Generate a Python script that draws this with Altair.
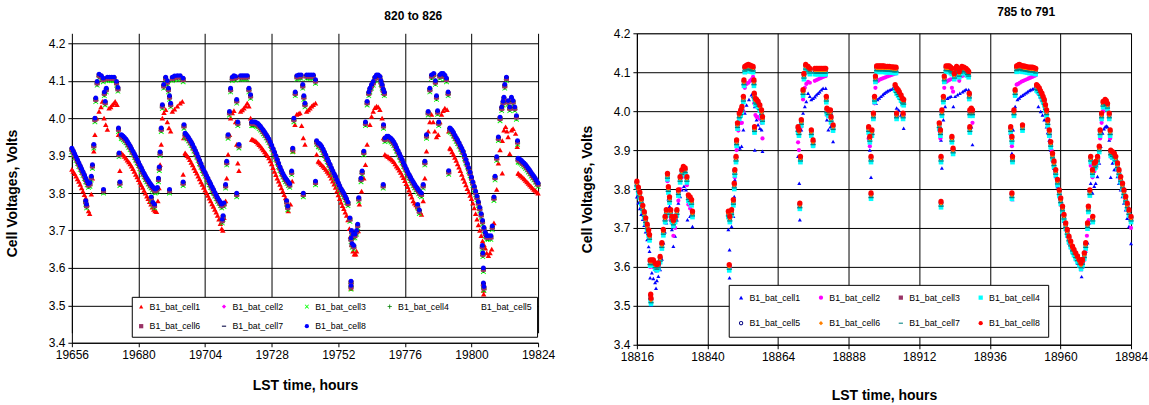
import altair as alt
import pandas as pd

CELLS = ["B1_bat_cell%d" % i for i in range(1, 9)]

# ---------------- LEFT PANEL (820 to 826) ----------------
LEFT_TITLE = "820 to 826"
LEFT_XTICKS = [19656, 19680, 19704, 19728, 19752, 19776, 19800, 19824]
Y_TICKS = [3.4, 3.5, 3.6, 3.7, 3.8, 3.9, 4.0, 4.1, 4.2]

# cell8 (blue, top trace): (hour, volts)
L_CELL8 = [
    (19656, 3.920), (19656.5, 3.913), (19657, 3.905), (19657.5, 3.897), (19658, 3.889), (19658.5, 3.881),
    (19659, 3.873), (19659.5, 3.865), (19660, 3.857), (19660.5, 3.849), (19661, 3.840), (19661.5, 3.832),
    (19662, 3.825), (19661.0, 3.780), (19661.3, 3.770), (19662.5, 3.828), (19663, 3.845), (19663.4, 3.876),
    (19663.9, 3.930), (19664.3, 4.000), (19664.6, 4.054), (19665.1, 4.098), (19665.8, 4.118), (19666.6, 4.114),
    (19667.3, 4.107), (19667.4, 3.810), (19667.7, 4.070), (19668, 4.045), (19668.4, 4.080), (19668.8, 4.110),
    (19669.6, 4.110), (19670.4, 4.110), (19671.2, 4.110), (19672.1, 4.098), (19672.6, 4.082), (19672.8, 3.974),
    (19673, 3.907), (19673.3, 3.830), (19673.8, 3.956),
    (19674, 3.955), (19674.5, 3.952), (19675, 3.948), (19675.5, 3.944), (19676, 3.938), (19676.5, 3.932),
    (19677, 3.926), (19677.5, 3.919), (19678, 3.912), (19678.5, 3.905), (19679, 3.898), (19679.5, 3.890),
    (19680, 3.883), (19680.5, 3.875), (19681, 3.868), (19681.5, 3.860), (19682, 3.853), (19682.5, 3.846),
    (19683, 3.840), (19683.5, 3.834), (19684, 3.828), (19684.5, 3.823), (19685, 3.818), (19685.5, 3.814),
    (19686, 3.810), (19686.4, 3.812), (19684.6, 3.790), (19685.2, 3.775), (19685.8, 3.770),
    (19686.8, 3.815), (19687.2, 3.840), (19687.5, 3.870), (19687.8, 3.910), (19688.2, 3.974), (19688.6, 4.036),
    (19689.1, 4.090), (19689.8, 4.110), (19690.4, 4.100), (19690.8, 4.080), (19691.2, 4.060), (19691.2, 3.810),
    (19691.6, 4.040), (19692.2, 4.110), (19693, 4.113), (19694, 4.114), (19695, 4.114), (19696.1, 4.107),
    (19696.1, 3.830), (19696.4, 3.983), (19696.8, 3.960),
    (19697, 3.958), (19697.5, 3.954), (19698, 3.949), (19698.5, 3.943), (19699, 3.937), (19699.5, 3.930),
    (19700, 3.922), (19700.5, 3.914), (19701, 3.906), (19701.5, 3.897), (19702, 3.888), (19702.5, 3.879),
    (19703, 3.870), (19703.5, 3.862), (19704, 3.855), (19704.5, 3.847), (19705, 3.840), (19705.5, 3.832),
    (19706, 3.825), (19706.5, 3.817), (19707, 3.810), (19707.5, 3.802), (19708, 3.795), (19708.5, 3.788),
    (19709, 3.782), (19709.5, 3.776), (19710, 3.770), (19710.2, 3.730), (19710.5, 3.740),
    (19710.8, 3.774), (19711.4, 3.823), (19711.8, 3.885), (19712.3, 3.956), (19712.8, 4.018), (19713.2, 4.080),
    (19713.8, 4.110), (19714.4, 4.114), (19715, 4.112), (19715.4, 4.050), (19715.4, 3.800), (19715.8, 3.990),
    (19716.2, 3.930), (19716.8, 4.114), (19717.6, 4.114), (19718.4, 4.114), (19719.2, 4.114), (19719.8, 4.080),
    (19720.4, 4.063), (19720.8, 3.990),
    (19721, 3.990), (19721.5, 3.990), (19722, 3.990), (19722.5, 3.988), (19723, 3.986), (19723.5, 3.982),
    (19724, 3.978), (19724.5, 3.973), (19725, 3.968), (19725.5, 3.963), (19726, 3.957), (19726.5, 3.951),
    (19727, 3.945), (19727.5, 3.937), (19728, 3.928), (19728.5, 3.919), (19729, 3.910), (19729.5, 3.900),
    (19730, 3.890), (19730.5, 3.880), (19731, 3.870), (19731.5, 3.861), (19732, 3.853), (19732.5, 3.846),
    (19733, 3.840), (19733.5, 3.835), (19734, 3.830), (19734.5, 3.825), (19733.4, 3.780), (19733.8, 3.765),
    (19735.2, 3.859), (19735.6, 3.920), (19736, 4.000), (19736.5, 4.070), (19737.1, 4.114), (19737.8, 4.116),
    (19738.6, 4.116), (19739.2, 4.090), (19739.4, 3.800), (19739.6, 4.060), (19740, 4.040), (19740.6, 4.116),
    (19741.4, 4.116), (19742.2, 4.116), (19743, 4.116), (19743.8, 4.103), (19743.8, 3.832), (19744.2, 3.940),
    (19744.8, 3.934),
    (19745, 3.933), (19745.5, 3.930), (19746, 3.925), (19746.5, 3.918), (19747, 3.910), (19747.5, 3.902),
    (19748, 3.893), (19748.5, 3.885), (19749, 3.877), (19749.5, 3.868), (19750, 3.860), (19750.5, 3.852),
    (19751, 3.845), (19751.5, 3.836), (19752, 3.828), (19752.5, 3.820), (19753, 3.812), (19753.5, 3.806),
    (19754, 3.800), (19754.5, 3.792), (19755, 3.785), (19755.5, 3.776), (19756.2, 3.734), (19756.8, 3.700),
    (19757.4, 3.690), (19758, 3.690), (19756.6, 3.680), (19757, 3.665), (19757.6, 3.660), (19756.6, 3.565),
    (19756.6, 3.553), (19758.6, 3.700), (19759, 3.717), (19759.4, 3.788), (19760.2, 3.840), (19760.6, 3.859),
    (19761.2, 3.912), (19761.8, 3.990), (19762.4, 4.045), (19763, 4.070), (19763.4, 4.080), (19764, 4.090),
    (19764.6, 4.098), (19765.2, 4.110), (19765.8, 4.116), (19766.4, 4.116), (19767, 4.112), (19767.4, 4.100),
    (19767.8, 4.090), (19768.2, 4.078), (19768.6, 4.070), (19768.3, 3.983), (19768.2, 3.823), (19768.8, 3.947),
    (19769.5, 3.952), (19770, 3.952), (19770.5, 3.949), (19771, 3.946), (19771.5, 3.942), (19772, 3.937),
    (19772.5, 3.930), (19773, 3.922), (19773.5, 3.914), (19774, 3.906), (19774.5, 3.898), (19775, 3.890),
    (19775.5, 3.881), (19776, 3.873), (19776.5, 3.865), (19777, 3.857), (19777.5, 3.850), (19778, 3.843),
    (19778.5, 3.836), (19779, 3.830), (19779.5, 3.824), (19780, 3.818), (19780.5, 3.813), (19781, 3.808),
    (19781.5, 3.803), (19782, 3.800), (19780.6, 3.770), (19781.2, 3.755),
    (19782.6, 3.823), (19783.2, 3.885), (19783.8, 3.956), (19784.4, 4.018), (19785, 4.080), (19785.6, 4.116),
    (19786.4, 4.120), (19787, 4.100), (19787.4, 4.060), (19787.8, 4.020), (19788.2, 3.990), (19788.6, 4.116),
    (19789.2, 4.120), (19789.8, 4.120), (19790.4, 4.115), (19791, 4.107), (19791.6, 4.070), (19791.8, 3.860),
    (19792.2, 3.974),
    (19792.5, 3.972), (19793, 3.968), (19793.5, 3.962), (19794, 3.955), (19794.5, 3.948), (19795, 3.942),
    (19795.5, 3.935), (19796, 3.927), (19796.5, 3.920), (19797, 3.912), (19797.5, 3.901), (19798, 3.890),
    (19798.5, 3.879), (19799, 3.868), (19799.5, 3.856), (19800, 3.843), (19800.5, 3.830), (19801, 3.818),
    (19801.5, 3.805), (19802, 3.792), (19802.5, 3.777), (19803, 3.762), (19803.5, 3.745), (19804, 3.727),
    (19804.5, 3.708), (19805, 3.695), (19805.5, 3.686), (19806.1, 3.686), (19807, 3.686), (19807.5, 3.712),
    (19803.9, 3.660), (19804.1, 3.640), (19804.3, 3.600), (19804.3, 3.560), (19804.5, 3.550),
    (19808.1, 3.790), (19808.5, 3.845), (19809.1, 3.897), (19809.7, 3.950), (19810.3, 4.003), (19810.9, 4.030),
    (19811.4, 4.045), (19811.7, 4.056), (19812, 4.090), (19812.6, 4.110), (19813.2, 4.047), (19813.8, 4.030),
    (19814.4, 4.056), (19815, 4.047), (19815.6, 4.030), (19816.2, 4.007), (19816.6, 3.940), (19816.8, 3.893),
    (19817, 3.892), (19817.5, 3.890), (19818, 3.887), (19818.5, 3.883), (19819, 3.880), (19819.5, 3.876),
    (19820, 3.871), (19820.5, 3.866), (19821, 3.861), (19821.5, 3.855), (19822, 3.850), (19822.5, 3.845),
    (19823, 3.839), (19823.5, 3.833), (19824, 3.827),
]

# cell1 (red triangles, lower trace)
L_CELL1 = [
    (19656, 3.863), (19656.5, 3.858), (19657, 3.852), (19657.5, 3.845), (19658, 3.838), (19658.5, 3.831),
    (19659, 3.823), (19659.5, 3.814), (19660, 3.805), (19660.5, 3.796), (19661, 3.787), (19661.5, 3.770),
    (19662, 3.752), (19662.4, 3.745), (19663, 3.797), (19663.4, 3.840), (19663.9, 3.912), (19664.3, 3.956),
    (19664.9, 4.000), (19665.8, 4.018), (19666.5, 4.030), (19667, 4.045), (19667.6, 4.000), (19668.2, 3.983),
    (19668.8, 3.970), (19669.4, 4.027), (19670, 4.030), (19670.6, 4.036), (19671.2, 4.040), (19671.6, 4.045),
    (19672.3, 4.036), (19672.8, 3.956), (19673.3, 3.860), (19673.8, 3.907),
    (19674, 3.905), (19674.5, 3.902), (19675, 3.898), (19675.5, 3.893), (19676, 3.888), (19676.5, 3.883),
    (19677, 3.878), (19677.5, 3.872), (19678, 3.865), (19678.5, 3.858), (19679, 3.850), (19679.5, 3.843),
    (19680, 3.836), (19680.5, 3.829), (19681, 3.822), (19681.5, 3.815), (19682, 3.807), (19682.5, 3.800),
    (19683, 3.792), (19683.5, 3.785), (19684, 3.777), (19684.5, 3.770), (19685, 3.762), (19685.5, 3.756),
    (19686, 3.752), (19686.5, 3.750), (19687, 3.779), (19687.4, 3.814), (19687.8, 3.876), (19688.2, 3.930),
    (19688.6, 4.000), (19689.2, 4.015), (19689.8, 4.023), (19690.4, 3.990), (19691, 3.974), (19691.6, 3.965),
    (19692.2, 4.018), (19693, 4.024), (19694, 4.032), (19695, 4.040), (19695.8, 4.045), (19696.3, 3.947),
    (19696.1, 3.850), (19696.8, 3.907),
    (19697, 3.905), (19697.5, 3.900), (19698, 3.896), (19698.5, 3.889), (19699, 3.882), (19699.5, 3.875),
    (19700, 3.867), (19700.5, 3.860), (19701, 3.853), (19701.5, 3.845), (19702, 3.838), (19702.5, 3.830),
    (19703, 3.823), (19703.5, 3.815), (19704, 3.808), (19704.5, 3.801), (19705, 3.794), (19705.5, 3.786),
    (19706, 3.779), (19706.5, 3.771), (19707, 3.764), (19707.5, 3.756), (19708, 3.749), (19708.5, 3.740),
    (19709, 3.730), (19709.5, 3.718), (19710, 3.705), (19710.4, 3.700), (19710.8, 3.734), (19711.4, 3.779),
    (19711.8, 3.840), (19712.3, 3.903), (19712.8, 3.956), (19713.2, 4.000), (19713.8, 4.014), (19714.4, 4.020),
    (19715, 3.990), (19715.4, 3.930), (19715.8, 3.880), (19716.2, 3.860), (19716.8, 4.018), (19717.4, 4.022),
    (19718, 4.027), (19718.6, 4.033), (19719.2, 4.040), (19719.8, 4.032), (19720.4, 4.000), (19720.8, 3.943),
    (19721, 3.943), (19721.5, 3.942), (19722, 3.940), (19722.5, 3.937), (19723, 3.933), (19723.5, 3.929),
    (19724, 3.925), (19724.5, 3.920), (19725, 3.915), (19725.5, 3.910), (19726, 3.905), (19726.5, 3.900),
    (19727, 3.894), (19727.5, 3.886), (19728, 3.878), (19728.5, 3.868), (19729, 3.858), (19729.5, 3.849),
    (19730, 3.840), (19730.5, 3.832), (19731, 3.823), (19731.5, 3.814), (19732, 3.805), (19732.5, 3.796),
    (19733, 3.787), (19733.5, 3.772), (19734, 3.752), (19734.8, 3.770), (19735.4, 3.832), (19735.7, 3.912),
    (19736.4, 3.983), (19737, 4.010), (19737.6, 4.012), (19738.2, 4.014), (19738.8, 3.980), (19739.4, 3.947),
    (19740, 3.930), (19740.6, 4.018), (19741.2, 4.022), (19741.8, 4.027), (19742.4, 4.032), (19743, 4.036),
    (19743.8, 4.040), (19744.2, 3.903), (19744.8, 3.885),
    (19745, 3.883), (19745.5, 3.880), (19746, 3.876), (19746.5, 3.872), (19747, 3.868), (19747.5, 3.863),
    (19748, 3.858), (19748.5, 3.853), (19749, 3.847), (19749.5, 3.840), (19750, 3.832), (19750.5, 3.824),
    (19751, 3.815), (19751.5, 3.805), (19752, 3.795), (19752.5, 3.785), (19753, 3.775), (19753.5, 3.766),
    (19754, 3.758), (19754.5, 3.749), (19755, 3.740), (19755.5, 3.728), (19756, 3.705), (19756.4, 3.685),
    (19756.8, 3.663), (19757.3, 3.645), (19757.8, 3.637), (19758.3, 3.637), (19756.6, 3.545),
    (19758.6, 3.645), (19759.2, 3.699), (19759.6, 3.770), (19760.4, 3.805), (19761.2, 3.840), (19761.8, 3.876),
    (19762.4, 3.930), (19763.4, 3.983), (19764, 4.005), (19764.6, 4.018), (19765.2, 4.028), (19765.8, 4.032),
    (19766.4, 4.030), (19767, 4.023), (19767.8, 4.000), (19768.3, 3.947), (19768.8, 3.903),
    (19769.5, 3.899), (19770, 3.897), (19770.5, 3.894), (19771, 3.891), (19771.5, 3.888), (19772, 3.884),
    (19772.5, 3.878), (19773, 3.872), (19773.5, 3.867), (19774, 3.861), (19774.5, 3.855), (19775, 3.848),
    (19775.5, 3.841), (19776, 3.833), (19776.5, 3.825), (19777, 3.817), (19777.5, 3.808), (19778, 3.798),
    (19778.5, 3.789), (19779, 3.779), (19779.5, 3.773), (19780, 3.768), (19780.5, 3.763), (19781, 3.758),
    (19781.5, 3.750), (19782, 3.743), (19782.6, 3.779), (19783.2, 3.840), (19783.8, 3.912), (19784.4, 3.965),
    (19785, 3.990), (19785.6, 4.010), (19786.2, 3.990), (19786.8, 3.965), (19787.4, 3.950), (19788, 3.956),
    (19788.6, 3.990), (19789.2, 4.010), (19789.8, 4.020), (19790.4, 4.027), (19791.2, 4.023), (19791.8, 3.965),
    (19792.2, 3.920),
    (19792.5, 3.918), (19793, 3.910), (19793.5, 3.903), (19794, 3.895), (19794.5, 3.887), (19795, 3.878),
    (19795.5, 3.869), (19796, 3.860), (19796.5, 3.850), (19797, 3.840), (19797.5, 3.831), (19798, 3.822),
    (19798.5, 3.812), (19799, 3.803), (19799.5, 3.794), (19800, 3.785), (19800.5, 3.773), (19801, 3.760),
    (19801.5, 3.745), (19802, 3.730), (19802.5, 3.715), (19803, 3.700), (19803.5, 3.686), (19804, 3.672),
    (19804.5, 3.662), (19805, 3.653), (19805.5, 3.640), (19806.1, 3.633), (19806.7, 3.640), (19807.3, 3.650),
    (19804.3, 3.540), (19804.4, 3.530), (19808.1, 3.720), (19809.1, 3.810), (19809.7, 3.880), (19810.3, 3.915),
    (19811.1, 3.940), (19811.1, 3.853), (19811.7, 3.968), (19812.3, 3.977), (19812.8, 3.965), (19813.2, 3.950),
    (19813.8, 3.905), (19814.4, 3.968), (19815, 3.972), (19815.9, 3.959), (19816.5, 3.924), (19816.8, 3.853),
    (19817, 3.852), (19817.5, 3.848), (19818, 3.845), (19818.5, 3.842), (19819, 3.838), (19819.5, 3.834),
    (19820, 3.830), (19820.5, 3.826), (19821, 3.822), (19821.5, 3.818), (19822, 3.814), (19822.5, 3.810),
    (19823, 3.807), (19823.5, 3.803), (19824, 3.800),
]

# cells 2-7 sit just under cell8; their gap below it
L_GAPS = {"B1_bat_cell2": 0.006, "B1_bat_cell3": 0.010, "B1_bat_cell4": 0.007,
          "B1_bat_cell5": 0.0, "B1_bat_cell6": 0.004, "B1_bat_cell7": 0.002}

LEFT_COLORS = ["#FF0000", "#FF00FF", "#00FF00", "#008000", "#FFFFFF", "#993366", "#000040", "#0000FF"]
X_PATH = "M-1,-0.75L-0.75,-1L0,-0.25L0.75,-1L1,-0.75L0.25,0L1,0.75L0.75,1L0,0.25L-0.75,1L-1,0.75L-0.25,0Z"
PLUS_PATH = "M-0.2,-1H0.2V-0.2H1V0.2H0.2V1H-0.2V0.2H-1V-0.2H-0.2Z"
DASH_PATH = "M-1,-0.25H1V0.25H-1Z"
EMPTY_PATH = "M0,0Z"
RING_PATH = ("M-1,0A1,1 0 1,1 1,0A1,1 0 1,1 -1,0Z"
             "M-0.55,0A0.55,0.55 0 1,0 0.55,0A0.55,0.55 0 1,0 -0.55,0Z")
LEFT_SHAPES = ["triangle-up", "diamond", X_PATH, PLUS_PATH, EMPTY_PATH, "square", DASH_PATH, "circle"]
LEFT_SIZES = [30, 22, 26, 24, 10, 22, 20, 36]

# ---------------- RIGHT PANEL (785 to 791) ----------------
RIGHT_TITLE = "785 to 791"
RIGHT_XTICKS = [18816, 18840, 18864, 18888, 18912, 18936, 18960, 18984]

R_CELL8 = [
    (18816, 3.820), (18816.5, 3.805), (18817, 3.792), (18817.5, 3.776), (18818, 3.758), (18818.5, 3.742),
    (18819, 3.726), (18819.5, 3.710), (18820, 3.695), (18820.3, 3.683), (18820.5, 3.618), (18820.7, 3.530),
    (18820.8, 3.520), (18821.1, 3.618), (18821.6, 3.618), (18822.2, 3.610), (18822.8, 3.606), (18823.3, 3.610),
    (18823.9, 3.627), (18824.5, 3.662), (18825, 3.696), (18825.6, 3.730), (18826, 3.747), (18826.4, 3.840),
    (18826.7, 3.806), (18827.1, 3.780), (18827.5, 3.747), (18827.9, 3.730), (18828.4, 3.720), (18829, 3.730),
    (18829.6, 3.747), (18830.1, 3.798), (18830.7, 3.832), (18831.3, 3.850), (18831.8, 3.858), (18832.4, 3.854),
    (18833, 3.832), (18833.5, 3.785), (18834.1, 3.780), (18834.6, 3.773), (18834.9, 3.743),
    (18847.1, 3.743), (18847.4, 3.606), (18847.6, 3.730), (18848.2, 3.747), (18848.8, 3.773), (18849.1, 3.815),
    (18849.3, 3.850), (18849.7, 3.884), (18849.9, 3.926), (18850.2, 3.970), (18850.8, 3.995), (18851.3, 4.003),
    (18851.7, 4.012), (18852.2, 4.038), (18852.4, 4.080), (18852.7, 4.115), (18853.3, 4.118), (18853.9, 4.120),
    (18854.5, 4.118), (18855, 4.116), (18855.5, 4.115), (18855.8, 4.080), (18855.9, 4.046), (18856.3, 4.033),
    (18856.7, 4.030), (18857.2, 4.025), (18857.8, 4.016), (18858.4, 4.003), (18858.7, 3.986), (18856.0, 3.960),
    (18870.8, 3.960), (18871.1, 3.952), (18871.4, 3.764), (18871.6, 3.884), (18871.9, 3.978), (18872.5, 4.055),
    (18872.8, 4.097), (18873.4, 4.120), (18874.2, 4.115), (18874.8, 4.110), (18875.3, 3.952), (18875.9, 3.926),
    (18876.5, 4.110), (18877.1, 4.110), (18877.6, 4.110), (18878.2, 4.110), (18878.7, 4.110), (18879.3, 4.110),
    (18879.8, 4.110), (18880.2, 4.110), (18880.4, 4.038), (18880.6, 4.008), (18881.1, 4.003), (18881.8, 4.003),
    (18882, 3.986), (18882.7, 3.965),
    (18894.8, 3.960), (18895.2, 3.935), (18895.6, 3.884), (18895.6, 3.790), (18895.9, 3.952), (18896.4, 3.995),
    (18896.8, 4.038), (18897.1, 4.090), (18897.5, 4.116), (18898, 4.116), (18898.5, 4.116), (18899, 4.116),
    (18899.5, 4.116), (18900, 4.116), (18900.6, 4.115), (18901.2, 4.115), (18901.8, 4.115), (18902.4, 4.114),
    (18903, 4.114), (18903.5, 4.113), (18904.1, 4.113), (18903.8, 4.068), (18904.3, 4.060), (18904.8, 4.055),
    (18905.2, 4.050), (18905.8, 4.042), (18906.3, 4.033), (18906.7, 4.030), (18904.3, 3.995), (18906.5, 3.995),
    (18918.8, 3.970), (18919.2, 3.952), (18919.4, 3.884), (18919.4, 3.768), (18919.7, 4.003), (18920.2, 4.038),
    (18920.5, 4.090), (18921.1, 4.116), (18921.7, 4.116), (18922.2, 4.116), (18922.7, 4.113), (18923.1, 4.110),
    (18923.1, 3.935), (18923.5, 3.905), (18923.9, 4.097), (18924.3, 4.110), (18924.7, 4.115), (18925.2, 4.110),
    (18925.6, 4.102), (18926, 4.110), (18926.5, 4.115), (18927.2, 4.113), (18927.9, 4.110), (18928.4, 4.106),
    (18928.8, 4.102), (18929, 4.046), (18929.2, 4.003), (18929.7, 4.008), (18930.1, 4.003), (18929.2, 3.960),
    (18943.1, 3.960), (18943.5, 3.935), (18943.5, 3.790), (18943.7, 3.884), (18944.2, 4.003), (18944.6, 4.055),
    (18945.1, 4.116), (18945.6, 4.118), (18946, 4.120), (18946.5, 4.118), (18947.1, 4.116), (18947.6, 4.116),
    (18948.2, 4.115), (18948.8, 4.114), (18949.4, 4.113), (18949.9, 4.113), (18950.5, 4.113), (18951, 4.112),
    (18951.6, 4.110), (18947.1, 3.965), (18951.9, 4.068), (18952.3, 4.065), (18952.8, 4.060), (18953.2, 4.053),
    (18953.7, 4.046), (18954.1, 4.038), (18954.5, 4.030), (18954.9, 4.017), (18955.3, 4.003), (18955.7, 3.978),
    (18956.2, 3.952), (18956.7, 3.922), (18957.3, 3.892), (18957.8, 3.872), (18958.4, 3.850), (18959, 3.825),
    (18959.6, 3.798), (18960.1, 3.777), (18960.7, 3.756), (18961.2, 3.735), (18961.8, 3.713), (18962.3, 3.696),
    (18962.9, 3.679), (18963.5, 3.666), (18964.1, 3.653), (18964.6, 3.645), (18965.2, 3.636), (18965.8, 3.628),
    (18966.4, 3.619), (18967, 3.610), (18967.5, 3.619), (18968.1, 3.636), (18968.6, 3.662), (18969.2, 3.713),
    (18969.5, 3.756), (18970, 3.798), (18970.3, 3.884), (18970.9, 3.850), (18971, 3.730), (18971.5, 3.867),
    (18972, 3.871), (18972.6, 3.884), (18973.2, 3.910), (18973.5, 3.952), (18974, 3.995), (18974.5, 4.025),
    (18975.2, 4.030), (18975.6, 4.027), (18976, 4.020), (18976.6, 3.995), (18976.9, 3.952), (18977.1, 3.900),
    (18977.7, 3.896), (18978.3, 3.892), (18978.8, 3.884), (18979.4, 3.867), (18979.9, 3.850), (18980.5, 3.832),
    (18981.1, 3.815), (18981.6, 3.798), (18982.2, 3.781), (18982.7, 3.764), (18983.3, 3.747), (18984, 3.730),
]

R_CELL1 = [
    (18816, 3.780), (18816.5, 3.765), (18817, 3.750), (18817.5, 3.735), (18818, 3.722), (18818.5, 3.707),
    (18819, 3.690), (18819.5, 3.670), (18820, 3.652), (18820.3, 3.640), (18820.5, 3.572), (18820.8, 3.503),
    (18821.1, 3.585), (18821.6, 3.570), (18822.2, 3.560), (18822.5, 3.545), (18822.8, 3.565), (18823.3, 3.576),
    (18823.9, 3.593), (18824.5, 3.620), (18825, 3.662), (18825.5, 3.690), (18826, 3.713), (18826.4, 3.798),
    (18826.7, 3.775), (18827.1, 3.756), (18827.5, 3.725), (18827.9, 3.696), (18828.4, 3.653), (18829, 3.679),
    (18829.6, 3.721), (18830.1, 3.764), (18830.7, 3.781), (18831.3, 3.798), (18832, 3.807), (18832.7, 3.798),
    (18833.2, 3.721), (18834.1, 3.730), (18834.9, 3.704),
    (18847.1, 3.696), (18847.5, 3.644), (18847.5, 3.572), (18848.2, 3.704), (18848.8, 3.730), (18849.1, 3.781),
    (18849.3, 3.824), (18849.9, 3.884), (18850.5, 3.910), (18851, 3.905), (18851.6, 3.910), (18852.2, 3.952),
    (18852.7, 3.995), (18853.3, 4.016), (18854.1, 4.030), (18855, 4.042), (18855.5, 4.038), (18856.1, 4.012),
    (18856.1, 3.900), (18856.7, 3.978), (18857.2, 3.965), (18857.8, 3.956), (18858.4, 3.952), (18858.7, 3.897),
    (18870.8, 3.884), (18871.2, 3.815), (18871.4, 3.721), (18871.9, 3.952), (18872.5, 3.995), (18873.1, 4.012),
    (18873.6, 4.025), (18874.2, 4.046), (18874.8, 4.038), (18875.3, 4.030), (18875.9, 4.033), (18876.5, 4.037),
    (18877, 4.042), (18877.6, 4.046), (18878.1, 4.050), (18878.7, 4.055), (18879.3, 4.059), (18880.2, 4.059),
    (18880.6, 3.978), (18881.1, 3.952), (18881.8, 3.960), (18882.7, 3.922),
    (18895.2, 3.900), (18895.6, 3.830), (18896.1, 3.944), (18896.7, 3.995), (18897.3, 4.020), (18897.8, 4.030),
    (18898.4, 4.034), (18899, 4.038), (18899.6, 4.042), (18900.1, 4.046), (18900.7, 4.049), (18901.2, 4.052),
    (18901.8, 4.054), (18902.4, 4.056), (18903, 4.058), (18903.5, 4.059), (18904.1, 4.059), (18904.3, 4.008),
    (18905, 4.003), (18905.8, 3.990), (18906.3, 3.995), (18906.7, 3.956),
    (18919.4, 3.926), (18919.7, 3.854), (18920.2, 3.978), (18920.8, 4.012), (18921.6, 4.033), (18922.2, 4.036),
    (18922.8, 4.038), (18923.6, 4.012), (18924.2, 4.038), (18925, 4.042), (18925.8, 4.046), (18926.7, 4.050),
    (18927.3, 4.053), (18927.9, 4.056), (18928.8, 4.055), (18929.2, 3.995), (18929.7, 3.960), (18930.1, 3.914),
    (18943.5, 3.892), (18943.7, 3.773), (18943.9, 3.952), (18944.6, 4.012), (18945.4, 4.030), (18946, 4.034),
    (18946.5, 4.038), (18947.1, 4.041), (18947.7, 4.044), (18948.3, 4.047), (18948.8, 4.050), (18949.4, 4.053),
    (18949.9, 4.055), (18950.5, 4.057), (18951.1, 4.059), (18951.9, 4.055), (18952.5, 4.012), (18953.3, 3.999),
    (18953.9, 3.990), (18954.5, 3.978), (18955.3, 3.960), (18955.7, 3.945), (18956.2, 3.926), (18956.7, 3.900),
    (18957.3, 3.875), (18957.8, 3.853), (18958.4, 3.832), (18959, 3.806), (18959.6, 3.781), (18960.1, 3.760),
    (18960.7, 3.738), (18961.2, 3.717), (18961.8, 3.696), (18962.3, 3.679), (18962.9, 3.662), (18963.5, 3.650),
    (18964.1, 3.640), (18964.6, 3.630), (18965.2, 3.619), (18965.8, 3.610), (18966.4, 3.602), (18967, 3.593),
    (18967.2, 3.575), (18967.5, 3.600), (18968.1, 3.619), (18968.6, 3.640), (18969.2, 3.662), (18969.8, 3.713),
    (18970.3, 3.815), (18970.9, 3.790), (18971.5, 3.807), (18972, 3.815), (18972.6, 3.832), (18973.2, 3.867),
    (18973.7, 3.910), (18974.3, 3.944), (18974.8, 3.955), (18975.2, 3.960), (18975.6, 3.962), (18976, 3.960),
    (18976.6, 3.926), (18977.1, 3.884), (18977.1, 3.830), (18977.7, 3.867), (18978.3, 3.850), (18978.8, 3.850),
    (18979.4, 3.832), (18979.9, 3.815), (18980.5, 3.798), (18981.1, 3.781), (18981.6, 3.764), (18982.2, 3.747),
    (18982.7, 3.725), (18983.3, 3.704), (18984, 3.660),
]

R_CELL2 = [
    (18816, 3.810), (18816.5, 3.797), (18817, 3.785), (18817.5, 3.770), (18818, 3.755), (18818.5, 3.738),
    (18819, 3.720), (18819.5, 3.705), (18820, 3.690), (18820.5, 3.600), (18821.5, 3.600), (18822.5, 3.590),
    (18823.5, 3.600), (18824.5, 3.650), (18825.5, 3.720), (18826.4, 3.820), (18827, 3.770), (18827.5, 3.720),
    (18828.4, 3.680), (18829, 3.700), (18829.6, 3.730), (18830.1, 3.770), (18830.7, 3.800), (18831.3, 3.830),
    (18831.8, 3.845), (18832.4, 3.840), (18833, 3.810), (18833.5, 3.760), (18834.1, 3.750), (18834.9, 3.730),
    (18847.1, 3.730), (18847.6, 3.600), (18848.2, 3.730), (18848.8, 3.760), (18849.3, 3.830), (18849.9, 3.900),
    (18850.5, 3.950), (18851.3, 3.970), (18851.7, 3.970), (18852.2, 4.000), (18852.7, 4.060), (18853.3, 4.070),
    (18853.9, 4.073), (18854.5, 4.078), (18855, 4.082), (18855.5, 4.088), (18855.9, 4.020), (18856.3, 3.990),
    (18856.7, 3.985), (18857.2, 3.985), (18857.8, 3.980), (18858.4, 3.970), (18858.7, 3.930),
    (18870.8, 3.920), (18871.1, 3.900), (18871.4, 3.750), (18871.9, 3.960), (18872.5, 4.030), (18873.1, 4.060),
    (18873.6, 4.070), (18874.2, 4.075), (18874.8, 4.073), (18875.3, 3.950), (18875.9, 3.910), (18876.5, 4.078),
    (18877.1, 4.080), (18877.6, 4.082), (18878.2, 4.084), (18878.7, 4.086), (18879.3, 4.088), (18879.8, 4.090),
    (18880.2, 4.090), (18880.6, 3.990), (18881.1, 3.990), (18881.8, 3.995), (18882.7, 3.950),
    (18894.8, 3.930), (18895.2, 3.910), (18895.6, 3.870), (18895.9, 3.940), (18896.4, 3.980), (18896.8, 4.020),
    (18897.1, 4.060), (18897.5, 4.076), (18898, 4.078), (18898.6, 4.081), (18899.2, 4.083), (18899.8, 4.085),
    (18900.5, 4.087), (18901.2, 4.089), (18901.9, 4.091), (18902.6, 4.093), (18903.3, 4.095), (18904.1, 4.097),
    (18904.3, 4.050), (18905, 4.040), (18905.8, 4.030), (18906.3, 4.020), (18906.7, 3.990),
    (18918.8, 3.950), (18919.2, 3.930), (18919.4, 3.870), (18919.7, 3.990), (18920.2, 4.030), (18920.5, 4.060),
    (18921.1, 4.075), (18921.7, 4.078), (18922.2, 4.080), (18922.7, 4.082), (18923.1, 4.060), (18923.5, 4.050),
    (18923.9, 4.085), (18924.7, 4.087), (18925.6, 4.078), (18926.5, 4.090), (18927.2, 4.092), (18927.9, 4.094),
    (18928.8, 4.095), (18929.2, 3.990), (18929.7, 3.990), (18930.1, 3.970),
    (18943.1, 3.940), (18943.5, 3.910), (18943.7, 3.870), (18944.2, 3.990), (18944.6, 4.040), (18945.1, 4.068),
    (18945.6, 4.070), (18946.2, 4.073), (18946.8, 4.076), (18947.4, 4.078), (18948, 4.080), (18948.6, 4.082),
    (18949.2, 4.084), (18949.8, 4.086), (18950.4, 4.088), (18951, 4.090), (18951.6, 4.092), (18951.9, 4.055),
    (18952.5, 4.045), (18953.2, 4.035), (18953.9, 4.025), (18954.5, 4.015), (18955.2, 3.995), (18955.8, 3.965),
    (18956.4, 3.935), (18957, 3.900), (18957.6, 3.870), (18958.3, 3.840), (18959, 3.810), (18959.6, 3.785),
    (18960.3, 3.760), (18961, 3.735), (18961.7, 3.710), (18962.4, 3.687), (18963.1, 3.670), (18963.8, 3.655),
    (18964.5, 3.642), (18965.2, 3.630), (18965.9, 3.620), (18966.6, 3.610), (18967.2, 3.600), (18967.8, 3.615),
    (18968.4, 3.640), (18969, 3.680), (18969.6, 3.720), (18970.3, 3.860), (18970.9, 3.830), (18971.5, 3.845),
    (18972.2, 3.855), (18972.9, 3.880), (18973.5, 3.930), (18974, 3.970), (18974.5, 4.000), (18975.2, 4.010),
    (18975.8, 4.005), (18976.4, 3.990), (18976.9, 3.930), (18977.4, 3.880), (18978, 3.880), (18978.8, 3.870),
    (18979.5, 3.850), (18980.3, 3.825), (18981.1, 3.800), (18981.9, 3.778), (18982.7, 3.755), (18983.4, 3.730),
    (18984, 3.700),
]

# cells 3-7 sit just under cell8; their gap below it
R_GAPS = {"B1_bat_cell3": 0.008, "B1_bat_cell4": 0.015, "B1_bat_cell5": 0.003,
          "B1_bat_cell6": 0.005, "B1_bat_cell7": 0.012}

RIGHT_COLORS = ["#0000FF", "#FF00FF", "#993366", "#00FFFF", "#000080", "#FF8000", "#008080", "#FF0000"]
RIGHT_SHAPES = ["triangle-up", "circle", "square", "square", RING_PATH, "diamond", DASH_PATH, "circle"]
RIGHT_SIZES = [16, 28, 22, 22, 22, 22, 22, 32]


def build(series):
    rows = []
    for k, name in enumerate(CELLS):
        if name not in series:
            continue
        for t, v in series[name]:
            rows.append({"cell": name, "sz": name + " ", "t": t, "v": v, "k": k})
    return pd.DataFrame(rows)


left_series = {"B1_bat_cell1": L_CELL1, "B1_bat_cell8": L_CELL8}
for name, gap in L_GAPS.items():
    left_series[name] = [(t, round(v - gap, 4)) for t, v in L_CELL8]
right_series = {"B1_bat_cell1": R_CELL1, "B1_bat_cell2": R_CELL2, "B1_bat_cell8": R_CELL8}
for name, gap in R_GAPS.items():
    right_series[name] = [(t, round(v - gap, 4)) for t, v in R_CELL8]

left_df = build(left_series)
right_df = build(right_series)
SIZE_KEYS = [c + " " for c in CELLS]

FONT = "Liberation Sans"


def legend(x, y, cols, pad, rowpad, colpad):
    return alt.Legend(title=None, orient="none", legendX=x, legendY=y, direction="horizontal",
                      columns=cols, fillColor="white", strokeColor="black", padding=pad,
                      rowPadding=rowpad, columnPadding=colpad, labelFont=FONT, labelFontSize=8.8,
                      labelColor="black", symbolSize=18, labelOffset=4, gridAlign="all")


def panel(df, xticks, colors, shapes, sizes, leg, width, height, yrange, xtitle_pad, ytitle_pad,
          title, title_x, title_y, view):
    pts = alt.Chart(df).mark_point(filled=True, opacity=1).encode(
        x=alt.X("t:Q", scale=alt.Scale(domain=[xticks[0], xticks[-1]], nice=False, zero=False),
                axis=alt.Axis(values=xticks, format="d", title="LST time, hours",
                              titlePadding=xtitle_pad, labelFlush=False, labelOverlap=False)),
        y=alt.Y("v:Q", scale=alt.Scale(domain=[3.4, 4.2], nice=False, zero=False, range=yrange),
                axis=alt.Axis(values=Y_TICKS, format=".1f", title="Cell Voltages, Volts",
                              titlePadding=ytitle_pad)),
        color=alt.Color("cell:N", scale=alt.Scale(domain=CELLS, range=colors), legend=leg),
        shape=alt.Shape("cell:N", scale=alt.Scale(domain=CELLS, range=shapes), legend=leg),
        size=alt.Size("sz:N", scale=alt.Scale(domain=SIZE_KEYS, range=sizes), legend=None),
        order=alt.Order("k:Q"),
    )
    ttl = alt.Chart(pd.DataFrame({"s": [title]})).mark_text(
        font=FONT, fontSize=12, fontWeight="bold", color="black"
    ).encode(text="s:N", x=alt.value(title_x), y=alt.value(title_y))
    return alt.layer(pts, ttl).properties(width=width, height=height, view=view)


# left plot area sits 10 px lower than the right one: its y range starts 10 px down
left = panel(left_df, LEFT_XTICKS, LEFT_COLORS, LEFT_SHAPES, LEFT_SIZES,
             legend(60, 264, 5, 5, 10, 19), 467, 310, [310, 10], 18, 29,
             LEFT_TITLE, 342, -17, alt.ViewBackground(strokeOpacity=0))
right = panel(right_df, RIGHT_XTICKS, RIGHT_COLORS, RIGHT_SHAPES, RIGHT_SIZES,
              legend(92, 252, 4, 8, 16, 16), 495, 312, [312, 0], 26, 19,
              RIGHT_TITLE, 390, -21, alt.ViewBackground(stroke="#808080"))

chart = alt.hconcat(left, right, spacing=24).resolve_scale(
    color="independent", shape="independent", size="independent"
).properties(
    padding={"left": 5, "top": 5, "right": 0, "bottom": 0}, background="white"
).configure_view(
    stroke="#808080", strokeWidth=1
).configure_axis(
    labelFont=FONT, titleFont=FONT, labelFontSize=12, titleFontSize=14, titleFontWeight="bold",
    labelColor="black", titleColor="black", grid=True, gridColor="black", gridOpacity=1, gridWidth=1,
    tickColor="black", tickSize=4, domainColor="black", labelPadding=3
)

chart.save("out.html", embed_options={"renderer": "svg", "actions": False})
